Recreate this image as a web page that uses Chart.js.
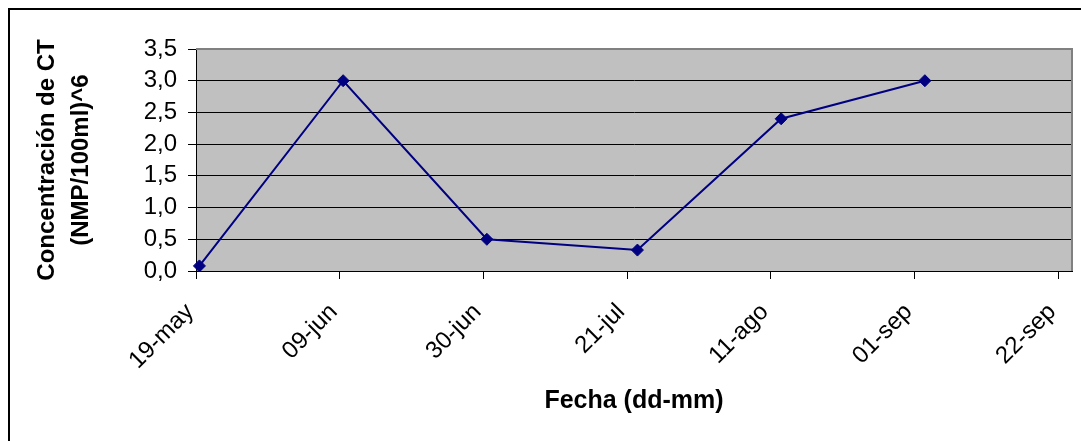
<!DOCTYPE html>
<html>
<head>
<meta charset="utf-8">
<script src="https://cdn.jsdelivr.net/npm/chart.js@4/dist/chart.umd.min.js"></script>
<style>
  html, body { margin: 0; padding: 0; background: #fff; }
  #chart { display: block; }
</style>
</head>
<body>
<canvas id="chart" width="1081" height="441"></canvas>
<script>
// Sampling dates and coliform concentration (NMP/100ml, x10^6)
const sampleDates = ['2005-05-19', '2005-06-09', '2005-06-30', '2005-07-22', '2005-08-12', '2005-09-02'];
const concentration = [0.08, 3.0, 0.5, 0.33, 2.4, 3.0];

// Date axis: tick dates and their labels (every 21 days)
const tickDates = ['2005-05-19', '2005-06-09', '2005-06-30', '2005-07-21', '2005-08-11', '2005-09-01', '2005-09-22'];
const tickLabels = ['19-may', '09-jun', '30-jun', '21-jul', '11-ago', '01-sep', '22-sep'];
const axisEndDate = '2005-09-24';

// Value axis ticks
const yTicks = [0, 0.5, 1.0, 1.5, 2.0, 2.5, 3.0, 3.5];

const DAY = 86400000;
const t0 = Date.parse(tickDates[0]);
const dayOf = d => (Date.parse(d) - t0) / DAY;

// points sit in the middle of their day, as on a daily date axis
const points = sampleDates.map((d, i) => ({ x: dayOf(d) + 0.5, y: concentration[i] }));
const tickDays = tickDates.map(dayOf);

const FONT = '"Liberation Sans", Arial, Helvetica, sans-serif';

const plotDecor = {
  id: 'plotDecor',
  beforeDraw(chart) {
    const { ctx, chartArea: a } = chart;
    ctx.save();
    ctx.fillStyle = '#ffffff';
    ctx.fillRect(0, 0, chart.width, chart.height);
    // outer frame (left and top edges)
    ctx.fillStyle = '#000000';
    ctx.fillRect(8, 8, 2, chart.height - 8);
    ctx.fillRect(8, 8, chart.width - 8, 2);
    // plot area fill
    ctx.fillStyle = '#C0C0C0';
    ctx.fillRect(a.left, a.top, a.right - a.left, a.bottom - a.top);
    ctx.restore();
  },
  beforeDatasetsDraw(chart) {
    const { ctx, chartArea: a } = chart;
    ctx.save();
    ctx.strokeStyle = '#808080';
    ctx.lineWidth = 2;
    ctx.beginPath();
    ctx.moveTo(a.left, a.top);
    ctx.lineTo(a.right, a.top);
    ctx.lineTo(a.right, a.bottom);
    ctx.stroke();
    ctx.restore();
  }
};

new Chart(document.getElementById('chart'), {
  type: 'line',
  data: {
    datasets: [{
      data: points,
      borderColor: '#000080',
      borderWidth: 2,
      backgroundColor: '#000080',
      pointStyle: 'rectRot',
      pointRadius: 6,
      pointBorderWidth: 1,
      pointBorderColor: '#000080',
      pointBackgroundColor: '#000080',
      tension: 0,
      clip: false
    }]
  },
  options: {
    responsive: false,
    devicePixelRatio: 1,
    animation: false,
    layout: { padding: { top: 49, right: 9, left: 0, bottom: 0 } },
    plugins: { legend: { display: false }, tooltip: { enabled: false } },
    scales: {
      x: {
        type: 'linear',
        min: 0,
        max: dayOf(axisEndDate),
        afterBuildTicks: s => { s.ticks = tickDays.map(v => ({ value: v })); },
        afterFit: s => { s.height = 170; s.paddingLeft = 0; s.paddingRight = 0; },
        ticks: {
          autoSkip: false,
          minRotation: 45,
          maxRotation: 45,
          padding: 19,
          labelOffset: -6,
          color: '#000',
          font: { family: FONT, size: 24 },
          callback: (v, i) => tickLabels[i]
        },
        grid: { drawOnChartArea: false, tickLength: 8, tickColor: '#000', lineWidth: 1 },
        border: { color: '#000', width: 1 },
        title: {
          display: true,
          text: 'Fecha (dd-mm)',
          color: '#000',
          font: { family: FONT, size: 25, weight: 'bold', lineHeight: 1.2 },
          padding: { top: 0, bottom: 25 }
        }
      },
      y: {
        min: 0,
        max: 3.5,
        afterBuildTicks: s => { s.ticks = yTicks.map(v => ({ value: v })); },
        afterFit: s => { s.width = 196; },
        ticks: {
          autoSkip: false,
          padding: 11,
          color: '#000',
          font: { family: FONT, size: 24 },
          callback: v => v.toFixed(1).replace('.', ',')
        },
        grid: {
          color: c => (c.tick && c.tick.value === 3.5) ? '#808080' : '#000000',
          tickColor: '#000',
          tickLength: 8,
          lineWidth: 1
        },
        border: { color: '#000', width: 1 },
        title: {
          display: true,
          text: ['Concentración de CT', '(NMP/100ml)^6'],
          color: '#000',
          font: { family: FONT, size: 24, weight: 'bold', lineHeight: 1.4 },
          padding: { top: 31, bottom: 0 }
        }
      }
    }
  },
  plugins: [plotDecor]
});
</script>
</body>
</html>
